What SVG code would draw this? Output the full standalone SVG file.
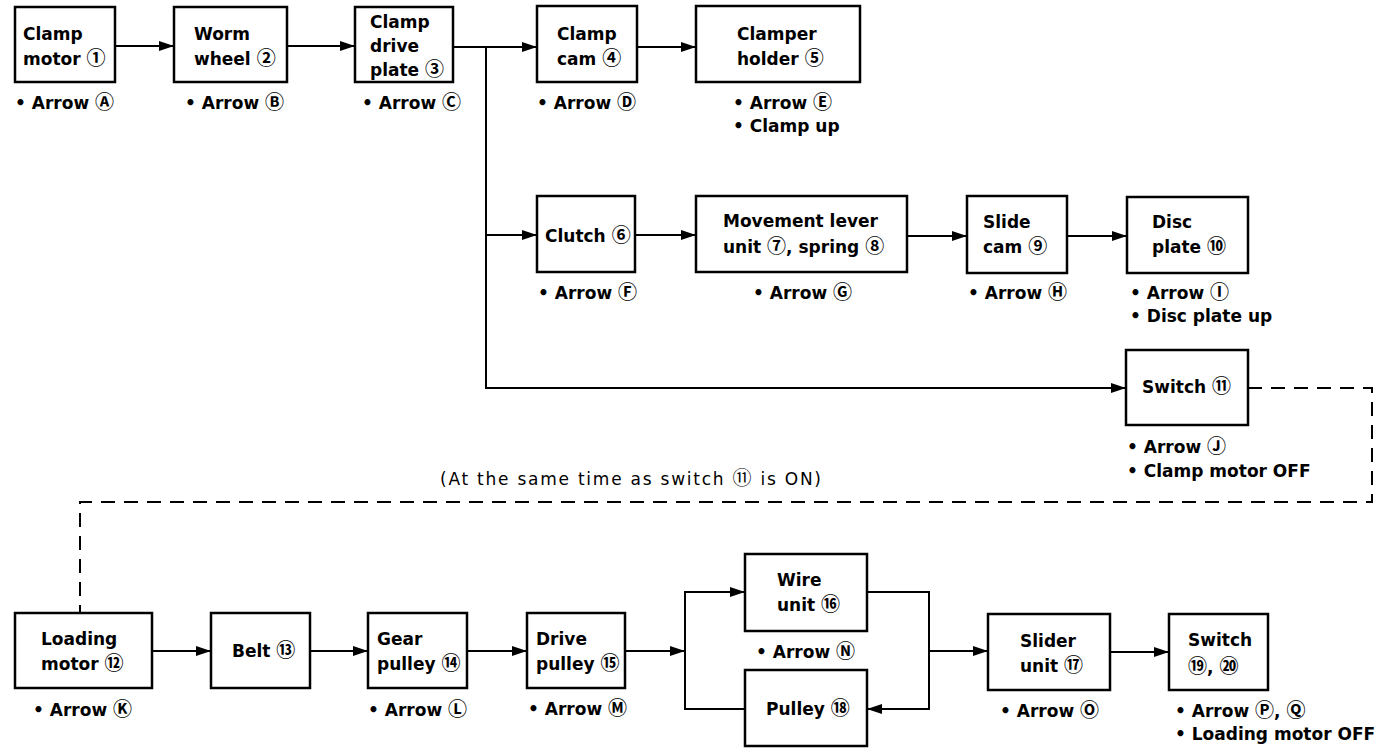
<svg xmlns="http://www.w3.org/2000/svg" width="1382" height="749" viewBox="0 0 1382 749">
<defs>
<marker id="ah" markerUnits="userSpaceOnUse" markerWidth="15" markerHeight="10" refX="15" refY="5" orient="auto">
<path d="M0,0 L15,5 L0,10 z" fill="#000"/>
</marker>
<style>
.b{fill:#fff;stroke:#000;stroke-width:2.5}
.t{font-family:"DejaVu Sans","Noto Sans CJK JP",sans-serif;font-weight:bold;font-size:17px;fill:#000}
.c{font-family:"Noto Sans CJK JP",sans-serif;font-weight:bold;font-size:19px}
.n{font-family:"DejaVu Sans","Noto Sans CJK JP",sans-serif;font-size:17px;fill:#000}
.n .c{font-weight:normal;font-size:19px}
.ln{fill:none;stroke:#000;stroke-width:2}
.ar{marker-end:url(#ah)}
.ds{fill:none;stroke:#000;stroke-width:2;stroke-dasharray:14 9}
</style>
</defs>
<rect width="1382" height="749" fill="#fff"/>
<g id="connectors">
<path class="ln ar" d="M115,46 H174"/>
<path class="ln ar" d="M287,46 H355"/>
<path class="ln ar" d="M453,47 H537"/>
<path class="ln ar" d="M637,47 H696"/>
<path class="ln ar" d="M486,47 V388 H1126"/>
<path class="ln ar" d="M486,235 H537"/>
<path class="ln ar" d="M635,235 H696"/>
<path class="ln ar" d="M907,236 H967"/>
<path class="ln ar" d="M1067,236 H1127"/>
<path class="ds" d="M1248,388 H1372 V502 H80 V613"/>
<path class="ln ar" d="M152,651 H211"/>
<path class="ln ar" d="M310,651 H368"/>
<path class="ln ar" d="M467,651 H527"/>
<path class="ln ar" d="M625,651 H685"/>
<path class="ln ar" d="M745,709 H685 V592 H745"/>
<path class="ln ar" d="M867,592 H929 V709 H867"/>
<path class="ln ar" d="M929,651 H988"/>
<path class="ln ar" d="M1110,652 H1169"/>
</g>
<g id="n1"><rect class="b" x="15" y="7" width="100" height="75"/>
<text class="t" x="23" y="40">Clamp</text><text class="t" x="23" y="65">motor <tspan class="c">①</tspan></text>
<text class="t" x="15" y="109">• Arrow <tspan class="c">Ⓐ</tspan></text></g>
<g id="n2"><rect class="b" x="174" y="7" width="113" height="75"/>
<text class="t" x="194" y="40">Worm</text><text class="t" x="194" y="65">wheel <tspan class="c">②</tspan></text>
<text class="t" x="185" y="109">• Arrow <tspan class="c">Ⓑ</tspan></text></g>
<g id="n3"><rect class="b" x="355" y="7" width="98" height="75"/>
<text class="t" x="370" y="28">Clamp</text><text class="t" x="370" y="52">drive</text><text class="t" x="370" y="76">plate <tspan class="c">③</tspan></text>
<text class="t" x="362" y="109">• Arrow <tspan class="c">Ⓒ</tspan></text></g>
<g id="n4"><rect class="b" x="537" y="6" width="100" height="76"/>
<text class="t" x="557" y="40">Clamp</text><text class="t" x="557" y="65">cam <tspan class="c">④</tspan></text>
<text class="t" x="537" y="109">• Arrow <tspan class="c">Ⓓ</tspan></text></g>
<g id="n5"><rect class="b" x="696" y="6" width="164" height="76"/>
<text class="t" x="737" y="40">Clamper</text><text class="t" x="737" y="65">holder <tspan class="c">⑤</tspan></text>
<text class="t" x="733" y="109">• Arrow <tspan class="c">Ⓔ</tspan></text><text class="t" x="733" y="132">• Clamp up</text></g>
<g id="n6"><rect class="b" x="537" y="196" width="98" height="76"/>
<text class="t" x="545" y="242">Clutch <tspan class="c">⑥</tspan></text>
<text class="t" x="538" y="299">• Arrow <tspan class="c">Ⓕ</tspan></text></g>
<g id="n7"><rect class="b" x="696" y="196" width="211" height="76"/>
<text class="t" x="723" y="227">Movement lever</text><text class="t" x="723" y="253">unit <tspan class="c">⑦</tspan>, spring <tspan class="c">⑧</tspan></text>
<text class="t" x="753" y="299">• Arrow <tspan class="c">Ⓖ</tspan></text></g>
<g id="n8"><rect class="b" x="967" y="196" width="100" height="77"/>
<text class="t" x="983" y="228">Slide</text><text class="t" x="983" y="253">cam <tspan class="c">⑨</tspan></text>
<text class="t" x="968" y="299">• Arrow <tspan class="c">Ⓗ</tspan></text></g>
<g id="n9"><rect class="b" x="1127" y="197" width="121" height="76"/>
<text class="t" x="1152" y="228">Disc</text><text class="t" x="1152" y="253">plate <tspan class="c">⑩</tspan></text>
<text class="t" x="1130" y="299">• Arrow <tspan class="c">Ⓘ</tspan></text><text class="t" x="1130" y="322">• Disc plate up</text></g>
<g id="n10"><rect class="b" x="1126" y="350" width="122" height="75"/>
<text class="t" x="1142" y="393">Switch <tspan class="c">⑪</tspan></text>
<text class="t" x="1127" y="453">• Arrow <tspan class="c">Ⓙ</tspan></text><text class="t" x="1127" y="477">• Clamp motor OFF</text></g>
<text id="note" class="n" x="440" y="485" textLength="381" lengthAdjust="spacing">(At the same time as switch <tspan class="c">⑪</tspan> is ON)</text>
<g id="n11"><rect class="b" x="15" y="613" width="137" height="75"/>
<text class="t" x="41" y="645">Loading</text><text class="t" x="41" y="670">motor <tspan class="c">⑫</tspan></text>
<text class="t" x="33" y="716">• Arrow <tspan class="c">Ⓚ</tspan></text></g>
<g id="n12"><rect class="b" x="211" y="613" width="99" height="75"/>
<text class="t" x="232" y="657">Belt <tspan class="c">⑬</tspan></text></g>
<g id="n13"><rect class="b" x="368" y="613" width="99" height="75"/>
<text class="t" x="377" y="645">Gear</text><text class="t" x="377" y="670">pulley <tspan class="c">⑭</tspan></text>
<text class="t" x="368" y="716">• Arrow <tspan class="c">Ⓛ</tspan></text></g>
<g id="n14"><rect class="b" x="527" y="613" width="98" height="75"/>
<text class="t" x="536" y="645">Drive</text><text class="t" x="536" y="670">pulley <tspan class="c">⑮</tspan></text>
<text class="t" x="528" y="715">• Arrow <tspan class="c">Ⓜ</tspan></text></g>
<g id="n15"><rect class="b" x="745" y="554" width="122" height="77"/>
<text class="t" x="777" y="586">Wire</text><text class="t" x="777" y="611">unit <tspan class="c">⑯</tspan></text>
<text class="t" x="756" y="658">• Arrow <tspan class="c">Ⓝ</tspan></text></g>
<g id="n16"><rect class="b" x="745" y="670" width="122" height="76"/>
<text class="t" x="766" y="715">Pulley <tspan class="c">⑱</tspan></text></g>
<g id="n17"><rect class="b" x="988" y="614" width="122" height="76"/>
<text class="t" x="1020" y="647">Slider</text><text class="t" x="1020" y="672">unit <tspan class="c">⑰</tspan></text>
<text class="t" x="1000" y="717">• Arrow <tspan class="c">Ⓞ</tspan></text></g>
<g id="n18"><rect class="b" x="1169" y="614" width="99" height="76"/>
<text class="t" x="1188" y="646">Switch</text><text class="t" x="1188" y="673"><tspan class="c">⑲</tspan>, <tspan class="c">⑳</tspan></text>
<text class="t" x="1175" y="717">• Arrow <tspan class="c">Ⓟ</tspan>, <tspan class="c">Ⓠ</tspan></text><text class="t" x="1175" y="740">• Loading motor OFF</text></g>
</svg>
